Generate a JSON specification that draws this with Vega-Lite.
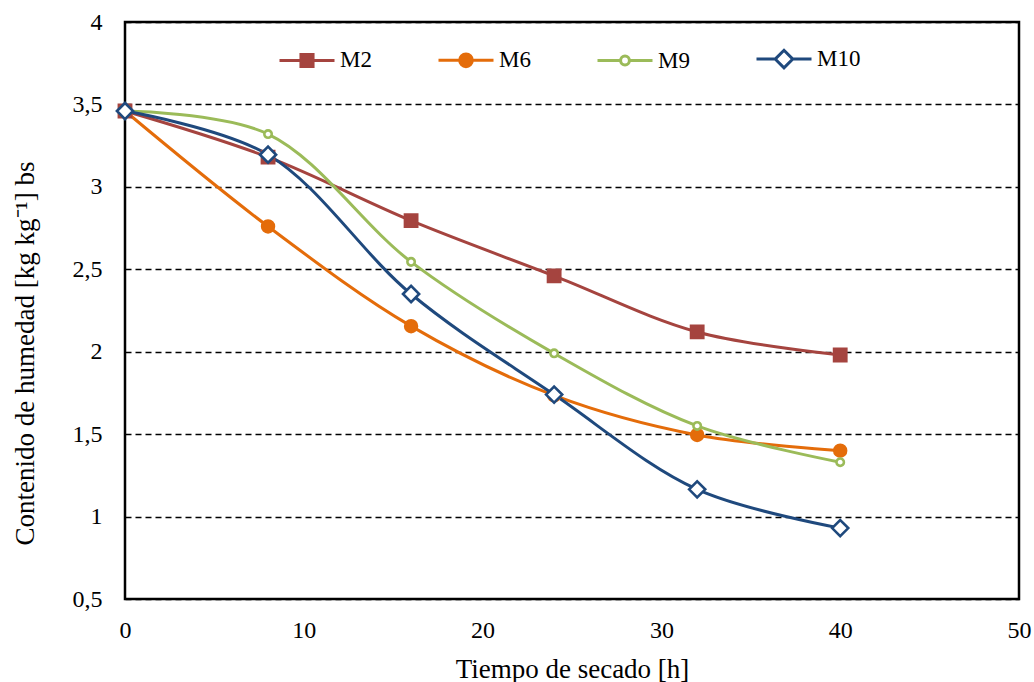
{
  "$schema": "https://vega.github.io/schema/vega-lite/v6.json",
  "autosize": "none",
  "width": 894,
  "height": 577,
  "padding": {"left": 125, "top": 22, "right": 15, "bottom": 83},
  "background": "white",
  "config": {
    "font": "Liberation Serif, Times New Roman, serif",
    "view": {"stroke": "black", "strokeWidth": 2.5},
    "axis": {"labelFont": "Liberation Serif, Times New Roman, serif", "titleFont": "Liberation Serif, Times New Roman, serif", "labelColor": "black", "titleColor": "black", "labelFontSize": 24, "titleFontSize": 27, "titleFontWeight": "normal", "domain": false, "ticks": false, "labelFlush": false}
  },
  "data": {"values": [
    {"t": 0, "serie": "M2", "h": 3.46},
    {"t": 8, "serie": "M2", "h": 3.18},
    {"t": 16, "serie": "M2", "h": 2.795},
    {"t": 24, "serie": "M2", "h": 2.46},
    {"t": 32, "serie": "M2", "h": 2.12},
    {"t": 40, "serie": "M2", "h": 1.98},
    {"t": 0, "serie": "M6", "h": 3.46},
    {"t": 8, "serie": "M6", "h": 2.76},
    {"t": 16, "serie": "M6", "h": 2.155},
    {"t": 24, "serie": "M6", "h": 1.735},
    {"t": 32, "serie": "M6", "h": 1.495},
    {"t": 40, "serie": "M6", "h": 1.40},
    {"t": 0, "serie": "M9", "h": 3.46},
    {"t": 8, "serie": "M9", "h": 3.32},
    {"t": 16, "serie": "M9", "h": 2.545},
    {"t": 24, "serie": "M9", "h": 1.99},
    {"t": 32, "serie": "M9", "h": 1.55},
    {"t": 40, "serie": "M9", "h": 1.33},
    {"t": 0, "serie": "M10", "h": 3.46},
    {"t": 8, "serie": "M10", "h": 3.195},
    {"t": 16, "serie": "M10", "h": 2.35},
    {"t": 24, "serie": "M10", "h": 1.74},
    {"t": 32, "serie": "M10", "h": 1.165},
    {"t": 40, "serie": "M10", "h": 0.93}
  ]},
  "encoding": {
    "x": {"field": "t", "type": "quantitative", "scale": {"domain": [0, 50], "nice": false}, "axis": {"values": [0, 10, 20, 30, 40, 50], "grid": false, "labelPadding": 19, "title": "Tiempo de secado [h]", "titleBaseline": "alphabetic", "titleY": 78}},
    "y": {"field": "h", "type": "quantitative", "scale": {"domain": [0.5, 4], "nice": false, "zero": false}, "axis": {"values": [0.5, 1, 1.5, 2, 2.5, 3, 3.5, 4], "labelExpr": "replace(format(datum.value, ''), '.', ',')", "grid": true, "gridColor": "black", "gridDash": [6, 4], "gridWidth": 1.5, "labelPadding": 23, "title": "Contenido de humedad [kg kg⁻¹] bs", "titleBaseline": "alphabetic", "titleX": -92, "titleY": 331}}
  },
  "resolve": {"scale": {"shape": "independent", "fill": "independent", "stroke": "independent"}},
  "layer": [
    {
      "mark": {"type": "line", "interpolate": "catmull-rom", "strokeWidth": 3},
      "encoding": {
        "color": {"field": "serie", "type": "nominal", "scale": {"domain": ["M2", "M6", "M9", "M10"], "range": ["#A5443F", "#E46C0A", "#9BBB59", "#1F497D"]}, "legend": null}
      }
    },
    {
      "mark": {"type": "point", "filled": true, "opacity": 1},
      "encoding": {
        "shape": {"field": "serie", "type": "nominal", "scale": {"domain": ["M2", "M6", "M9", "M10"], "range": ["square", "circle", "circle", "diamond"]}, "legend": null},
        "size": {"condition": [
          {"test": "datum.serie === 'M10'", "value": 260},
          {"test": "datum.serie === 'M9'", "value": 55},
          {"test": "datum.serie === 'M6'", "value": 140}
        ], "value": 150},
        "fill": {"field": "serie", "type": "nominal", "scale": {"domain": ["M2", "M6", "M9", "M10"], "range": ["#A5443F", "#E46C0A", "white", "white"]}, "legend": null},
        "stroke": {"field": "serie", "type": "nominal", "scale": {"domain": ["M2", "M6", "M9", "M10"], "range": ["#A5443F", "#E46C0A", "#9BBB59", "#1F497D"]}, "legend": null},
        "strokeWidth": {"value": 2.6}
      }
    },
    {
      "transform": [{"filter": "datum.t < 0"}],
      "mark": {"type": "point", "filled": true, "opacity": 1},
      "encoding": {
        "shape": {"field": "serie", "type": "nominal",
          "scale": {"domain": ["M2", "M6", "M9", "M10"], "range": [
            "M-1,0H1M-0.22,-0.22H0.22V0.22H-0.22Z",
            "M-1,0H1M0.23,0A0.23,0.23 0 1,1 -0.23,0A0.23,0.23 0 1,1 0.23,0Z",
            "M-1,0H-0.16M0.16,0H1M0.16,0A0.16,0.16 0 1,1 -0.16,0A0.16,0.16 0 1,1 0.16,0Z",
            "M-1,0H-0.32M0.32,0H1M0.32,0L0,-0.32L-0.32,0L0,0.32Z"
          ]},
          "legend": {
            "title": null, "orient": "none", "direction": "horizontal",
            "legendX": 153, "legendY": 8, "padding": 0,
            "symbolSize": 3025, "symbolStrokeWidth": 3, "symbolOpacity": 1,
            "labelFontSize": 23, "labelFont": "Liberation Serif, Times New Roman, serif", "labelColor": "black", "labelOffset": 4, "columnPadding": 60
          }
        },
        "fill": {"field": "serie", "type": "nominal", "scale": {"domain": ["M2", "M6", "M9", "M10"], "range": ["#A5443F", "#E46C0A", "white", "white"]}},
        "stroke": {"field": "serie", "type": "nominal", "scale": {"domain": ["M2", "M6", "M9", "M10"], "range": ["#A5443F", "#E46C0A", "#9BBB59", "#1F497D"]}}
      }
    }
  ]
}
